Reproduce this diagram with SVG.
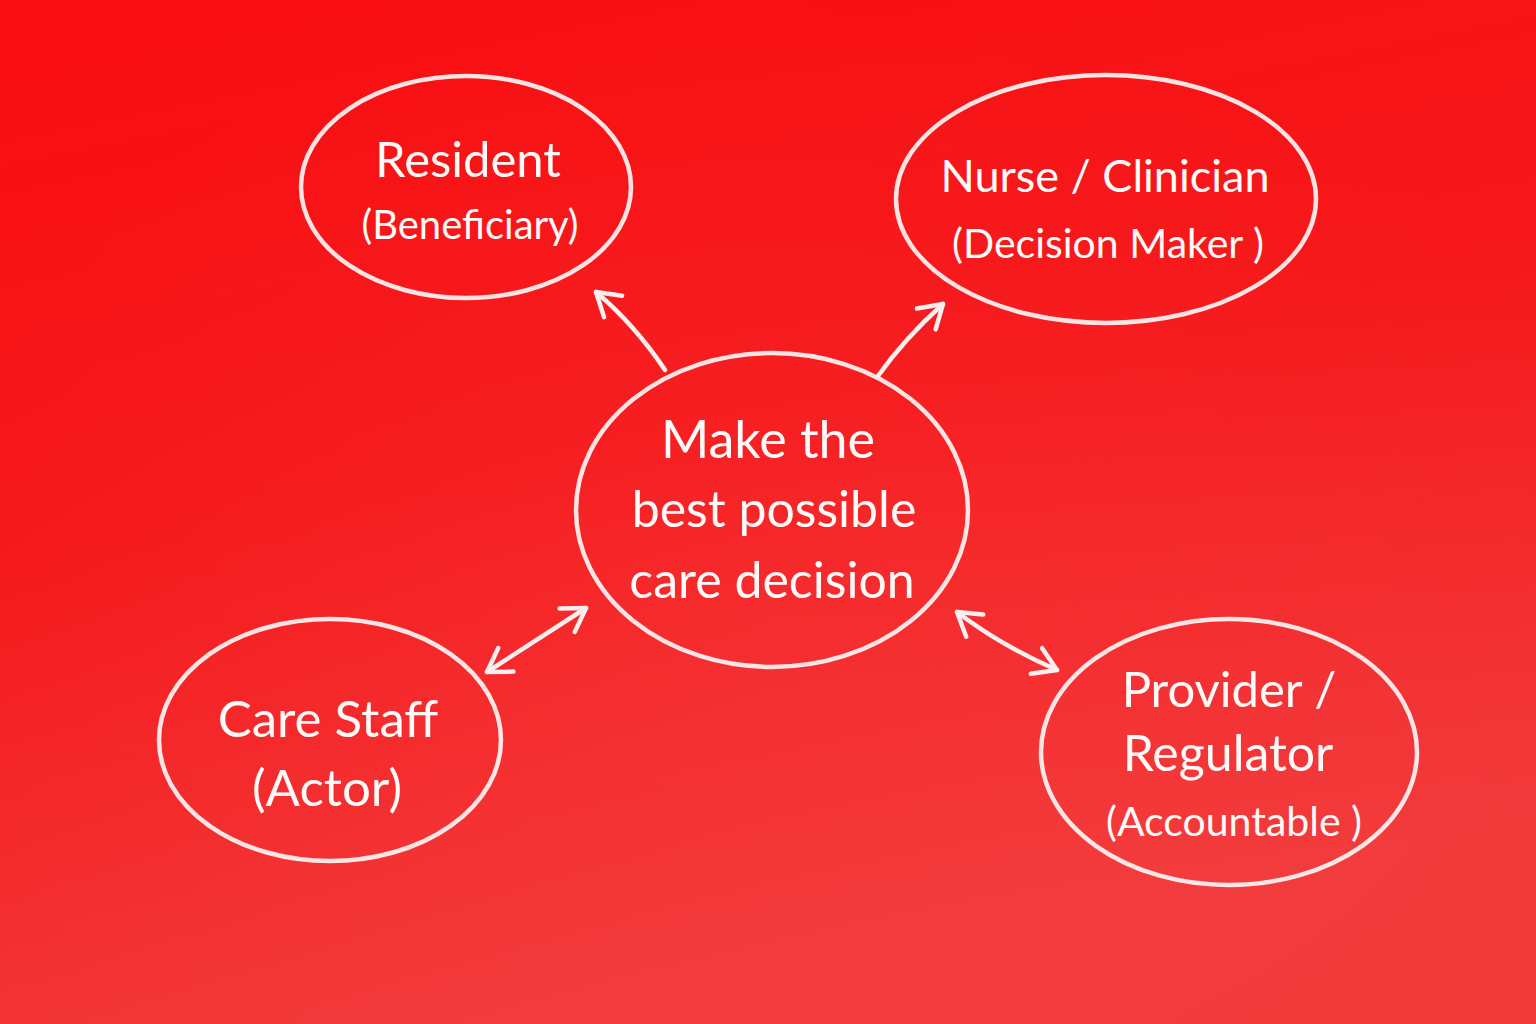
<svg xmlns="http://www.w3.org/2000/svg" width="1536" height="1024" viewBox="0 0 1536 1024">
<defs>
<linearGradient id="bg" x1="0" y1="0" x2="0.3" y2="1">
<stop offset="0" stop-color="#f90d10"/>
<stop offset="0.5" stop-color="#f5181b"/>
<stop offset="1" stop-color="#f23a3b"/>
</linearGradient>
<radialGradient id="glow" cx="0.5" cy="0.6" r="0.6">
<stop offset="0" stop-color="#ff5a5a" stop-opacity="0.14"/>
<stop offset="1" stop-color="#ff5a5a" stop-opacity="0"/>
</radialGradient>
<marker id="ah" viewBox="0 0 20 20" refX="16" refY="10" markerWidth="28" markerHeight="28" markerUnits="userSpaceOnUse" orient="auto-start-reverse" overflow="visible">
<path d="M0,0 L16,10 L0,20" fill="none" stroke="#fbeeee" stroke-width="3.2" stroke-linecap="round" stroke-linejoin="round"/>
</marker>
</defs>
<style>
.n{fill:none;stroke:#fbeeee;stroke-width:4.5;stroke-opacity:0.95}
.c{fill:none;stroke:#fbeeee;stroke-width:4.5;stroke-linecap:round}
.t{fill:#fffafa;font-family:"Lato","Open Sans",sans-serif;text-anchor:middle}
</style>
<rect width="1536" height="1024" fill="url(#bg)"/>
<rect width="1536" height="1024" fill="url(#glow)"/>
<g id="connectors">
<path class="c" d="M665,370 Q635,325 596,292" marker-end="url(#ah)"/>
<path class="c" d="M878,376 Q905,338 943,304" marker-end="url(#ah)"/>
<path class="c" d="M487,672 L586,608" marker-start="url(#ah)" marker-end="url(#ah)"/>
<path class="c" d="M957,612 Q1000,645 1057,670" marker-start="url(#ah)" marker-end="url(#ah)"/>
</g>
<g id="resident">
<ellipse class="n" cx="466" cy="187" rx="165" ry="111"/>
<text class="t" x="468" y="177" font-size="49">Resident</text>
<text class="t" x="470" y="239" font-size="40">(Beneficiary)</text>
</g>
<g id="nurse">
<ellipse class="n" cx="1106" cy="199" rx="210" ry="124"/>
<text class="t" x="1105" y="192" font-size="45">Nurse / Clinician</text>
<text class="t" x="1108" y="258" font-size="41">(Decision Maker )</text>
</g>
<g id="center">
<ellipse class="n" cx="772" cy="510" rx="196" ry="157"/>
<text class="t" x="768" y="458" font-size="52">Make the</text>
<text class="t" x="774" y="527" font-size="50">best possible</text>
<text class="t" x="772" y="598" font-size="50">care decision</text>
</g>
<g id="carestaff">
<ellipse class="n" cx="330" cy="740" rx="171" ry="121"/>
<text class="t" x="328" y="737" font-size="51">Care Staff</text>
<text class="t" x="327" y="806" font-size="51">(Actor)</text>
</g>
<g id="provider">
<ellipse class="n" cx="1229" cy="752" rx="188" ry="133"/>
<text class="t" x="1229" y="707" font-size="49">Provider /</text>
<text class="t" x="1228" y="771" font-size="50">Regulator</text>
<text class="t" x="1234" y="836" font-size="41">(Accountable )</text>
</g>
</svg>
